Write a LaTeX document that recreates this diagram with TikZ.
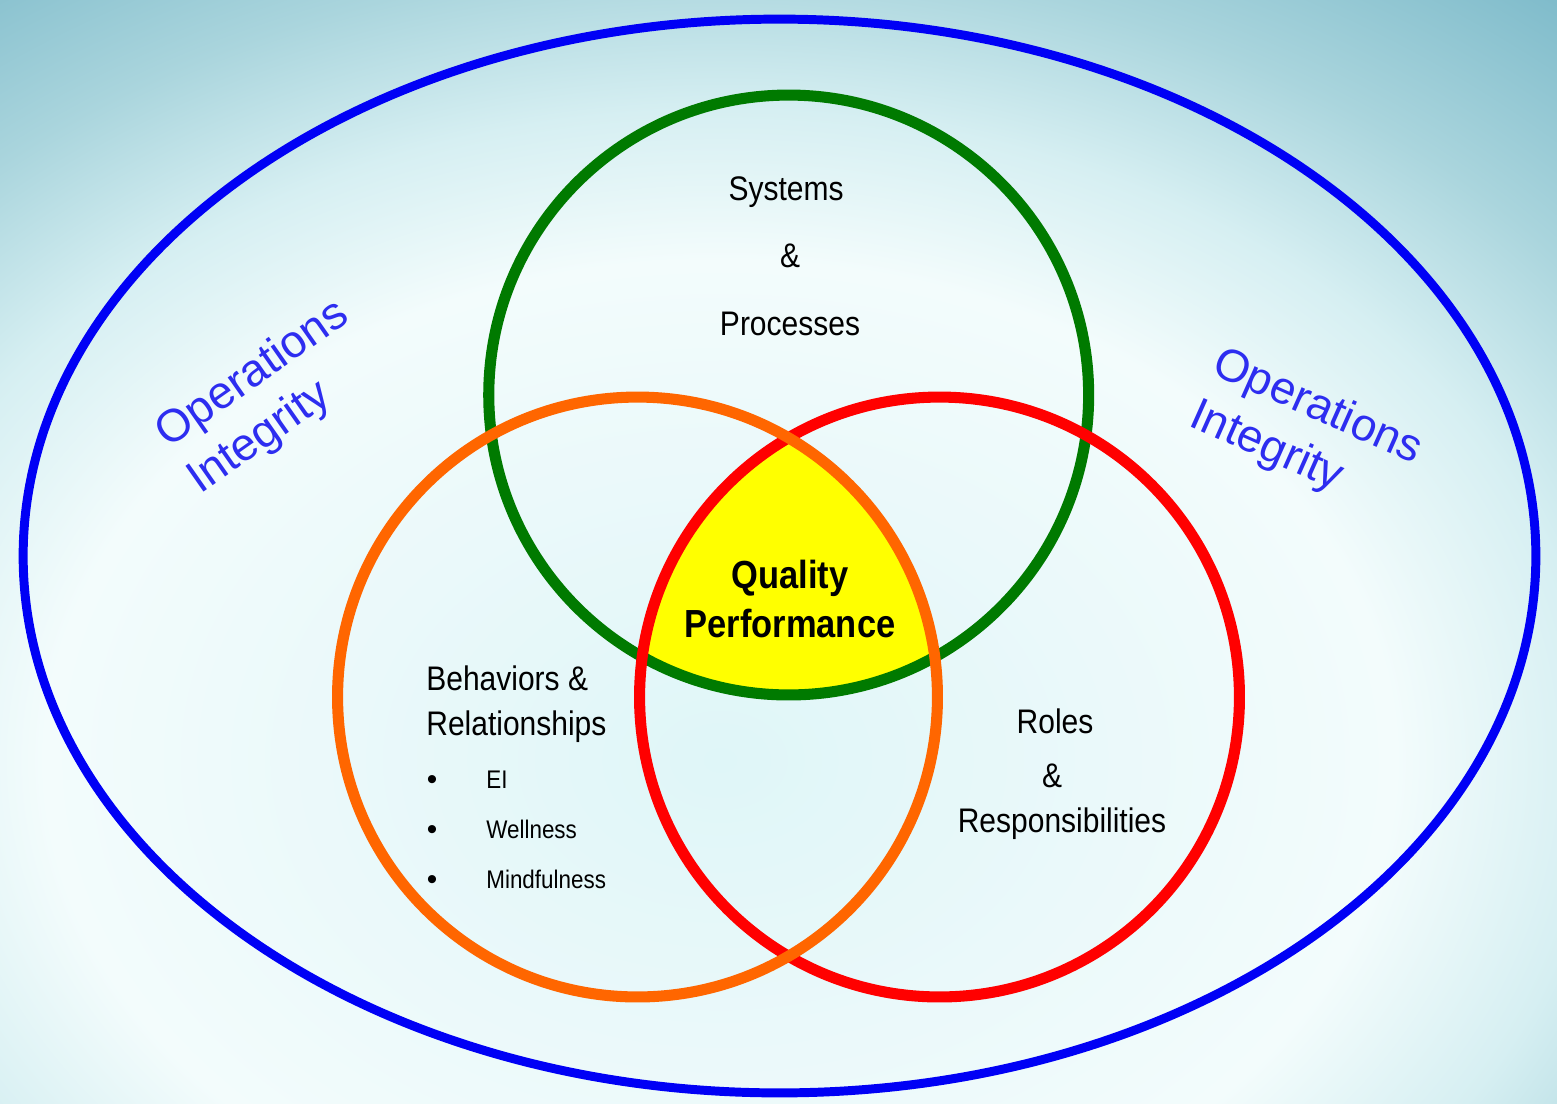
\documentclass[tikz,border=0pt]{standalone}
\usepackage{fontspec}
\setmainfont{Liberation Sans}
\newfontfamily\nfont[FakeStretch=0.88]{Liberation Sans}
\definecolor{bga}{HTML}{DFF6F8}
\definecolor{bgb}{HTML}{EBF9FA}
\definecolor{bgc}{HTML}{F3FCFC}
\definecolor{bgd}{HTML}{D6EFF2}
\definecolor{bge}{HTML}{AAD5DD}
\definecolor{bgf}{HTML}{7BB9C9}
\definecolor{ringgreen}{HTML}{007A00}
\definecolor{ringorange}{HTML}{FF6600}
\definecolor{ringred}{HTML}{FF0000}
\definecolor{ringblue}{HTML}{0000F5}
\definecolor{qyellow}{HTML}{FFFF00}
\definecolor{opsblue}{HTML}{2D2DF0}
\pgfdeclareradialshading{bgshade}{\pgfpointorigin}{color(0bp)=(bga); color(7.5bp)=(bgb); color(12.5bp)=(bgc); color(16.25bp)=(bgd); color(20bp)=(bge); color(25bp)=(bgf); color(50bp)=(bgf)}
\begin{document}
\begin{tikzpicture}[x=0.02cm, y=-0.02cm,
  ring/.style={line width=6.3pt},
  lab/.style={font=\nfont\fontsize{19.4}{23}\selectfont, inner sep=0pt, anchor=base},
  labw/.style={lab, anchor=base west},
  small/.style={font=\nfont\fontsize{14.5}{17}\selectfont, inner sep=0pt, anchor=base west},
  bul/.style={font=\fontsize{17}{20}\selectfont, inner sep=0pt, anchor=base},
  qual/.style={font=\nfont\bfseries\fontsize{22.3}{26}\selectfont, inner sep=0pt, anchor=base},
  ops/.style={font=\fontsize{26}{31}\selectfont, text=opsblue, inner sep=0pt, anchor=base west}]
\useasboundingbox (0,0) rectangle (1557,1103);
\begin{scope}
  \clip (0,0) rectangle (1557,1103);
  \shade[shading=bgshade] (720,760) ellipse [x radius=27cm, y radius=20cm];
\end{scope}
\coordinate (cg) at (788.7,395);
\coordinate (co) at (637.5,697);
\coordinate (cr) at (939.5,697);
\coordinate (cb) at (779.5,556);
% yellow core
\begin{scope}
  \clip (cg) circle [radius=6cm];
  \clip (co) circle [radius=6cm];
  \fill[qyellow] (cr) circle [radius=6cm];
\end{scope}
% rings
\draw[ringblue, line width=5.1pt] (cb) ellipse [x radius=15.13cm, y radius=10.74cm];
\draw[ring, ringgreen] (cg) circle [radius=6cm];
\draw[ring, ringred] (cr) circle [radius=6cm];
\draw[ring, ringorange] (co) circle [radius=6cm];
% texts
\node[lab] (sys1) at (786,200) {Systems};
\node[lab] (sys2) at (790,267) {\&};
\node[lab] (sys3) at (790,335) {Processes};
\node[qual] (q1) at (790,588) {Quality};
\node[qual] (q2) at (790,637) {Performance};
\node[labw] (beh1) at (426,690) {Behaviors \&};
\node[labw] (beh2) at (426,735) {Relationships};
\node[bul] (b1) at (432,789) {•};
\node[bul] (b2) at (432,839) {•};
\node[bul] (b3) at (432,889) {•};
\node[small] (i1) at (486,788) {EI};
\node[small] (i2) at (486,838) {Wellness};
\node[small] (i3) at (486,888) {Mindfulness};
\node[lab] (rol1) at (1055,733) {Roles};
\node[lab] (rol2) at (1052,787) {\&};
\node[lab] (rol3) at (1062,832) {Responsibilities};
\node[ops, rotate=35] (opl1) at (168,449) {Operations};
\node[ops, rotate=35] (opl2) at (200,495) {Integrity};
\node[ops, rotate=-24] (opr1) at (1210,373) {Operations};
\node[ops, rotate=-24] (opr2) at (1187,425) {Integrity};
\end{tikzpicture}
\end{document}
